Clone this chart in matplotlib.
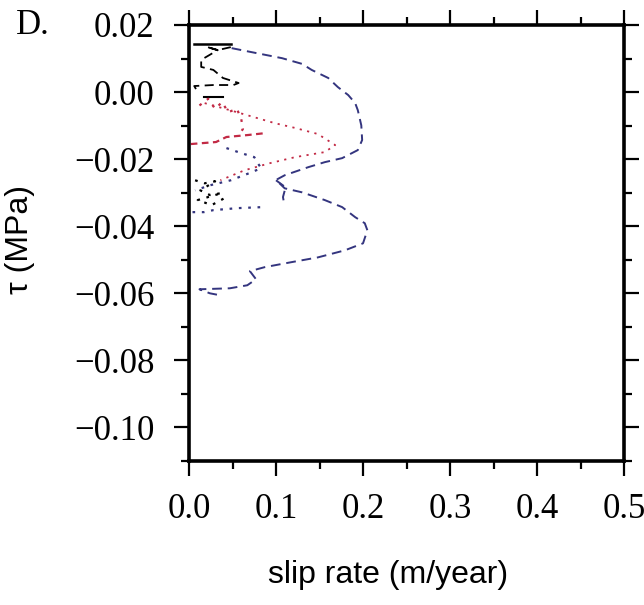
#!/usr/bin/env python3
import matplotlib

matplotlib.use("Agg")
import matplotlib.pyplot as plt
from matplotlib.ticker import MultipleLocator

# main dashed slip-rate / stress trajectory (blue)
blue_rate = [0.049, 0.072, 0.107, 0.130, 0.141, 0.160, 0.171, 0.183, 0.191, 0.194,
             0.198, 0.199, 0.194, 0.176, 0.156, 0.137, 0.110, 0.100, 0.110, 0.130,
             0.156, 0.176, 0.191, 0.202, 0.205, 0.200, 0.179, 0.148, 0.118, 0.087,
             0.070, 0.077, 0.067, 0.047, 0.012, 0.024, 0.036]
blue_tau = [0.0131, 0.0119, 0.0101, 0.0084, 0.0066, 0.0042, 0.0015, -0.0009, -0.0033, -0.0054,
            -0.0099, -0.0143, -0.0173, -0.0197, -0.0209, -0.0224, -0.0248, -0.0262, -0.0287, -0.0299,
            -0.0322, -0.0343, -0.0373, -0.0391, -0.0412, -0.0451, -0.0472, -0.0493, -0.0507, -0.0522,
            -0.0534, -0.0558, -0.0576, -0.0585, -0.0588, -0.0600, -0.0606]

# short dashed branch (blue)
branch_rate = [0.100, 0.111, 0.108, 0.109]
branch_tau = [-0.0263, -0.0284, -0.0313, -0.0328]

# early cycle, black
black_solid_rate = [0.006, 0.048]
black_solid_tau = [0.0143, 0.0143]
black_zig_rate = [0.048, 0.033, 0.020, 0.033, 0.014, 0.014, 0.028, 0.039, 0.057, 0.051, 0.028, 0.006, 0.008]
black_zig_tau = [0.0134, 0.0125, 0.0135, 0.0125, 0.0096, 0.0075, 0.0066, 0.0042, 0.0027, 0.0021, 0.0021, 0.0018, 0.0009]
black_seg_rate = [0.017, 0.039]
black_seg_tau = [-0.0015, -0.0015]

# red dotted cycles
red_fan_rate = [0.018, 0.047, 0.079, 0.099, 0.122, 0.148, 0.168, 0.156, 0.122, 0.093, 0.064, 0.036]
red_fan_tau = [-0.0033, -0.0054, -0.0078, -0.0093, -0.0107, -0.0125, -0.0158, -0.0179, -0.0194, -0.0212, -0.0233, -0.0263]
red_zig_rate = [0.012, 0.022, 0.030, 0.038, 0.045, 0.055, 0.060, 0.062, 0.058]
red_zig_tau = [-0.0040, -0.0020, -0.0050, -0.0030, -0.0060, -0.0050, -0.0080, -0.0110, -0.0125]
red_low_rate = [0.002, 0.031, 0.043, 0.068, 0.089]
red_low_tau = [-0.0155, -0.0149, -0.0134, -0.0128, -0.0122]

# blue dotted cycles
bdot_rate = [0.043, 0.060, 0.075, 0.079, 0.083, 0.069, 0.048, 0.024, 0.007]
bdot_tau = [-0.0167, -0.0182, -0.0194, -0.0212, -0.0227, -0.0242, -0.0263, -0.0278, -0.0293]
bdot2_rate = [0.004, 0.017, 0.028, 0.056, 0.085]
bdot2_tau = [-0.0358, -0.0358, -0.0352, -0.0346, -0.0343]

# black dotted cluster
kdot_rate = [0.007, 0.018, 0.030, 0.013, 0.024, 0.038, 0.010, 0.026, 0.041]
kdot_tau = [-0.0263, -0.0272, -0.0266, -0.0293, -0.0307, -0.0301, -0.0322, -0.0337, -0.0316]

NAVY = "#34357f"
RED = "#c22a45"
SERIF = ["Liberation Serif", "DejaVu Serif"]
SANS = ["Liberation Sans", "DejaVu Sans"]


def ytick_fmt(v, pos):
    if abs(v) < 1e-9:
        v = 0.0
    return f"{v:.2f}".replace("-", "\u2212")


fig = plt.figure(figsize=(6.44, 6.05), dpi=100)
ax = fig.add_axes([0.2935, 0.238, 0.6755, 0.7207])

dash = (0, (5, 3))
dot = (0, (1.2, 3))
ax.plot(blue_rate, blue_tau, color=NAVY, lw=1.4, linestyle=dash)
ax.plot(branch_rate, branch_tau, color=NAVY, lw=1.4, linestyle=dash)
ax.plot(black_solid_rate, black_solid_tau, color="black", lw=1.8)
ax.plot(black_zig_rate, black_zig_tau, color="black", lw=1.3, linestyle=dash)
ax.plot(black_seg_rate, black_seg_tau, color="black", lw=1.5)
ax.plot(red_fan_rate, red_fan_tau, color=RED, lw=1.3, linestyle=dot)
ax.plot(red_zig_rate, red_zig_tau, color=RED, lw=1.6, linestyle=dot)
ax.plot(red_low_rate, red_low_tau, color=RED, lw=1.6, linestyle=(0, (3, 2)))
ax.plot(bdot_rate, bdot_tau, color=NAVY, lw=1.6, linestyle=dot)
ax.plot(bdot2_rate, bdot2_tau, color=NAVY, lw=1.6, linestyle=dot)
ax.plot(kdot_rate, kdot_tau, color="black", lw=1.6, linestyle=dot)

ax.set_xlim(0.0, 0.5)
ax.set_ylim(-0.11, 0.02)
ax.xaxis.set_major_locator(MultipleLocator(0.1))
ax.xaxis.set_minor_locator(MultipleLocator(0.05))
ax.yaxis.set_major_locator(MultipleLocator(0.02))
ax.yaxis.set_minor_locator(MultipleLocator(0.01))
ax.xaxis.set_major_formatter(lambda v, p: f"{v:.1f}")
ax.yaxis.set_major_formatter(ytick_fmt)

for side in ax.spines.values():
    side.set_linewidth(2.6)
ax.tick_params(which="both", direction="out", top=True, right=True, width=1.6)
ax.tick_params(which="major", length=11, labelsize=25)
ax.tick_params(axis="x", which="major", pad=12)
ax.tick_params(axis="y", which="major", pad=14)
ax.tick_params(which="minor", length=6)
for lbl in ax.get_xticklabels() + ax.get_yticklabels():
    lbl.set_family(SERIF)

fig.text(0.025, 1 - 25 / 605, "D.", family=SERIF, fontsize=25, va="center", ha="left")
fig.text(20 / 644, 1 - 240 / 605, "\u03c4 (MPa)", family=SANS, fontsize=23,
         rotation=90, va="center", ha="center")
fig.text(388 / 644, 1 - 575 / 605, "slip rate (m/year)", family=SANS, fontsize=23,
         va="center", ha="center")

fig.savefig("out.png", dpi=100)
